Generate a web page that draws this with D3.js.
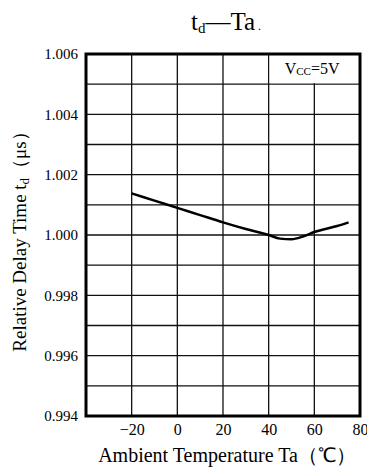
<!DOCTYPE html>
<html>
<head>
<meta charset="utf-8">
<script src="https://cdn.jsdelivr.net/npm/d3@7"></script>
<style>
  body { margin: 0; background: #fff; }
  svg { display: block; }
</style>
</head>
<body>
<div id="chart"></div>
<script>
var width = 367;
var height = 471;

// curve
var temps = [-20, -10, 0, 10, 20, 30, 40, 45, 50, 55, 60, 70, 75];
var delays = [1.00138, 1.00114, 1.0009, 1.00066, 1.00042, 1.0002, 1.0, 0.99988, 0.99986, 0.99995, 1.0001, 1.0003, 1.00042];

var xTicks = [-20, 0, 20, 40, 60, 80];
var yTicks = [0.994, 0.996, 0.998, 1.0, 1.002, 1.004, 1.006];
var yGrid = [0.995, 0.996, 0.997, 0.998, 0.999, 1.0, 1.001, 1.002, 1.003, 1.004, 1.005];
var xGrid = [-20, 0, 20, 40, 60];

var plotLeft = 86, plotRight = 360, plotTop = 54, plotBottom = 416;
var serif = "'Liberation Serif', 'Times New Roman', serif";

var svg = d3
  .select("#chart")
  .append("svg")
  .attr("width", width)
  .attr("height", height)
  .style("font-family", serif);

var xScale = d3.scaleLinear().domain([-40, 80]).range([plotLeft, plotRight]);
var yScale = d3.scaleLinear().domain([0.994, 1.006]).range([plotBottom, plotTop]);

// grid
svg
  .selectAll("line.hgrid")
  .data(yGrid)
  .enter()
  .append("line")
  .attr("class", "hgrid")
  .attr("x1", plotLeft)
  .attr("x2", plotRight)
  .attr("y1", function (d) { return yScale(d); })
  .attr("y2", function (d) { return yScale(d); })
  .attr("stroke", "#111")
  .attr("stroke-width", 1.3);

svg
  .selectAll("line.vgrid")
  .data(xGrid)
  .enter()
  .append("line")
  .attr("class", "vgrid")
  .attr("x1", function (d) { return xScale(d); })
  .attr("x2", function (d) { return xScale(d); })
  .attr("y1", plotTop)
  .attr("y2", plotBottom)
  .attr("stroke", "#111")
  .attr("stroke-width", 1.3);

// label box for Vcc
svg
  .append("rect")
  .attr("x", xScale(40) + 1)
  .attr("y", plotTop + 1)
  .attr("width", plotRight - xScale(40) - 2)
  .attr("height", yScale(1.005) - plotTop - 2)
  .attr("fill", "#fff");

var vcc = svg
  .append("text")
  .attr("x", xScale(47))
  .attr("y", yScale(1.0055) + 5)
  .style("font-family", serif)
  .attr("font-size", "16px")
  .attr("fill", "#000");
vcc.append("tspan").text("V");
vcc.append("tspan").attr("font-size", "11px").attr("dy", 1).text("CC");
vcc.append("tspan").attr("dy", -1).text("=5V");

// curve
var line = d3
  .line()
  .x(function (d, i) { return xScale(temps[i]); })
  .y(function (d) { return yScale(d); })
  .curve(d3.curveMonotoneX);

svg
  .append("path")
  .datum(delays)
  .attr("d", line)
  .attr("fill", "none")
  .attr("stroke", "#000")
  .attr("stroke-width", 2.5);

// frame
svg
  .append("rect")
  .attr("x", plotLeft)
  .attr("y", plotTop)
  .attr("width", plotRight - plotLeft)
  .attr("height", plotBottom - plotTop)
  .attr("fill", "none")
  .attr("stroke", "#000")
  .attr("stroke-width", 3);

// axes (labels only)
var xAxis = d3
  .axisBottom(xScale)
  .tickValues(xTicks)
  .tickSize(0)
  .tickPadding(8)
  .tickFormat(function (d) { return d < 0 ? "\u2212" + Math.abs(d) : d; });

var yAxis = d3
  .axisLeft(yScale)
  .tickValues(yTicks)
  .tickSize(0)
  .tickPadding(8)
  .tickFormat(d3.format(".3f"));

var gx = svg
  .append("g")
  .attr("transform", "translate(0," + plotBottom + ")")
  .call(xAxis);
gx.select(".domain").remove();
gx.attr("font-family", null);
gx.selectAll("text")
  .style("font-family", serif)
  .attr("font-size", "16px")
  .attr("fill", "#000");

var gy = svg
  .append("g")
  .attr("transform", "translate(" + plotLeft + ",0)")
  .call(yAxis);
gy.select(".domain").remove();
gy.attr("font-family", null);
gy.selectAll("text")
  .style("font-family", serif)
  .attr("font-size", "15px")
  .attr("fill", "#000");

// title
var title = svg
  .append("text")
  .attr("x", 226)
  .attr("y", 30)
  .attr("text-anchor", "middle")
  .style("font-family", serif)
  .attr("font-size", "25px")
  .attr("fill", "#000");
title.append("tspan").text("t");
title.append("tspan").attr("font-size", "15px").attr("dy", 3).text("d");
title.append("tspan").attr("dy", -3).text("\u2014Ta");
title.append("tspan").attr("font-size", "12px").text(" .");

// x label
svg
  .append("text")
  .attr("x", 227)
  .attr("y", 462)
  .attr("text-anchor", "middle")
  .style("font-family", serif)
  .attr("font-size", "20px")
  .attr("fill", "#000")
  .text("Ambient Temperature  Ta\uFF08\u2103\uFF09");

// y label
var ylab = svg
  .append("text")
  .attr("transform", "translate(26,237) rotate(-90)")
  .attr("text-anchor", "middle")
  .style("font-family", serif)
  .attr("font-size", "19px")
  .attr("fill", "#000");
ylab.append("tspan").text("Relative Delay Time  t");
ylab.append("tspan").attr("font-size", "13px").attr("dy", 3).text("d");
ylab.append("tspan").attr("dy", -3).text("\uFF08\u03BCs\uFF09");
</script>
</body>
</html>
